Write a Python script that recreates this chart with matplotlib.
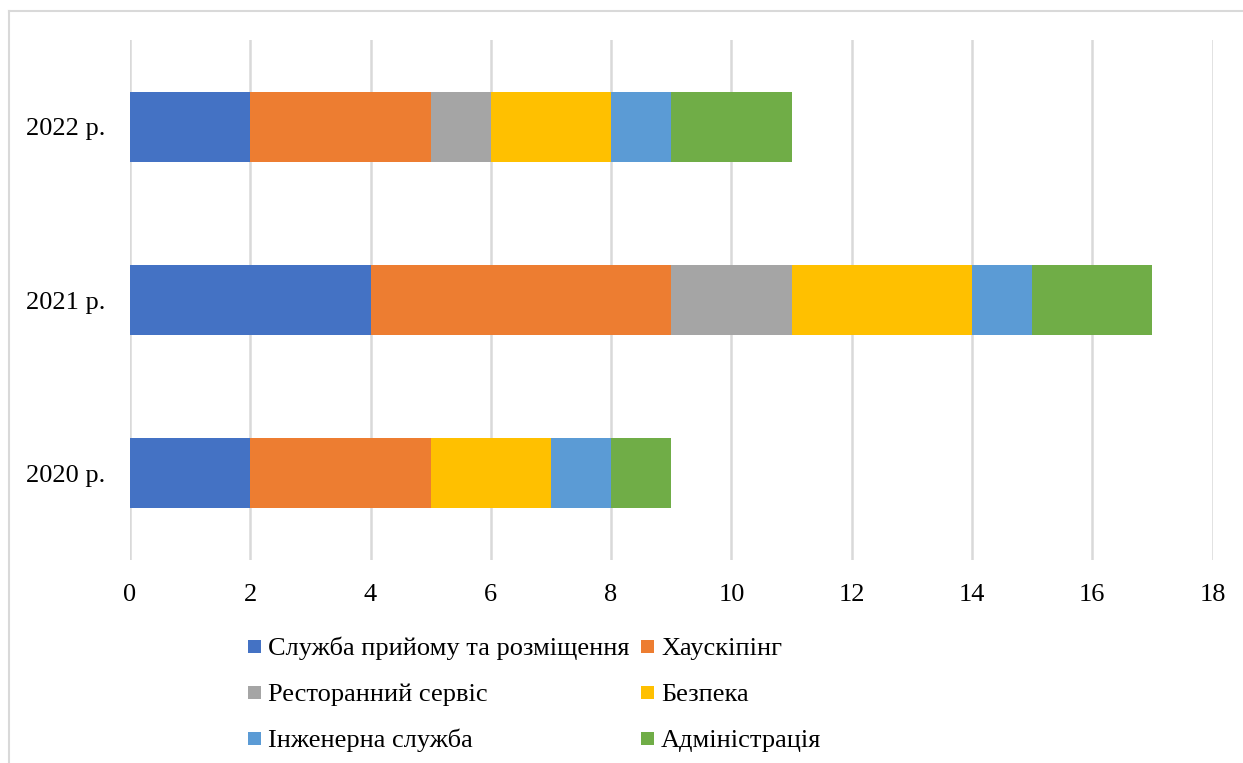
import matplotlib
matplotlib.use("Agg")
import matplotlib.pyplot as plt
from matplotlib.lines import Line2D
from matplotlib.patches import Rectangle
import numpy as np

plt.rcParams['font.family'] = ['Liberation Serif', 'DejaVu Serif']

years = ["2020 р.", "2021 р.", "2022 р."]
series_names = [
    "Служба прийому та розміщення",
    "Хаускіпінг",
    "Ресторанний сервіс",
    "Безпека",
    "Інженерна служба",
    "Адміністрація",
]
reception = [2, 4, 2]
housekeeping = [3, 5, 3]
restaurant = [0, 2, 1]
security = [2, 3, 2]
engineering = [1, 1, 1]
administration = [1, 2, 2]
colors = ["#4472C4", "#ED7D31", "#A5A5A5", "#FFC000", "#5B9BD5", "#70AD47"]

values = [reception, housekeeping, restaurant, security, engineering, administration]

W, H = 1243, 763
fig = plt.figure(figsize=(W / 100, H / 100), dpi=100)
ax = fig.add_axes([130 / W, 1 - 560 / H, (1212.5 - 130) / W, 520 / H])

y = np.arange(len(years))
left = np.zeros(len(years))
for name, vals, c in zip(series_names, values, colors):
    vals = np.array(vals, dtype=float)
    ax.barh(y, vals, left=left, height=0.404, color=c, label=name, zorder=3)
    left += vals

ax.set_xlim(0, 18)
ax.set_ylim(-0.5, 2.5)
ax.set_xticks(np.arange(0, 19, 2))
ax.set_yticks(y)
ax.set_yticklabels(years)
ax.grid(axis='x', color='#D9D9D9', linewidth=1.8, zorder=0)
ax.set_axisbelow(True)
for s in ax.spines.values():
    s.set_visible(False)
ax.tick_params(axis='both', length=0, labelsize=19, colors='black')
ax.tick_params(axis='x', pad=17)
ax.tick_params(axis='y', pad=18)

# legend: 2-column grid of colour squares with labels on a shared baseline
col_x = [248, 641]     # left edge of swatches, px
row_y = [646, 692, 738]  # swatch centres, px
sw = 13                # swatch size, px
for i, (name, c) in enumerate(zip(series_names, colors)):
    r, k = divmod(i, 2)
    x0, yc = col_x[k], row_y[r]
    fig.add_artist(Rectangle((x0 / W, 1 - (yc + sw / 2) / H), sw / W, sw / H,
                             facecolor=c, edgecolor='none', transform=fig.transFigure))
    fig.text((x0 + 20) / W, 1 - (yc + 9) / H, name, fontsize=19,
             ha='left', va='baseline', color='black')

# light frame lines along the top and left edges
fig.add_artist(Line2D([9 / W, 1], [1 - 10.5 / H, 1 - 10.5 / H],
                      color='#D9D9D9', linewidth=1.5, transform=fig.transFigure))
fig.add_artist(Line2D([9 / W, 9 / W], [0, 1 - 10.5 / H],
                      color='#D9D9D9', linewidth=1.5, transform=fig.transFigure))

fig.savefig("out.png", dpi=100)
